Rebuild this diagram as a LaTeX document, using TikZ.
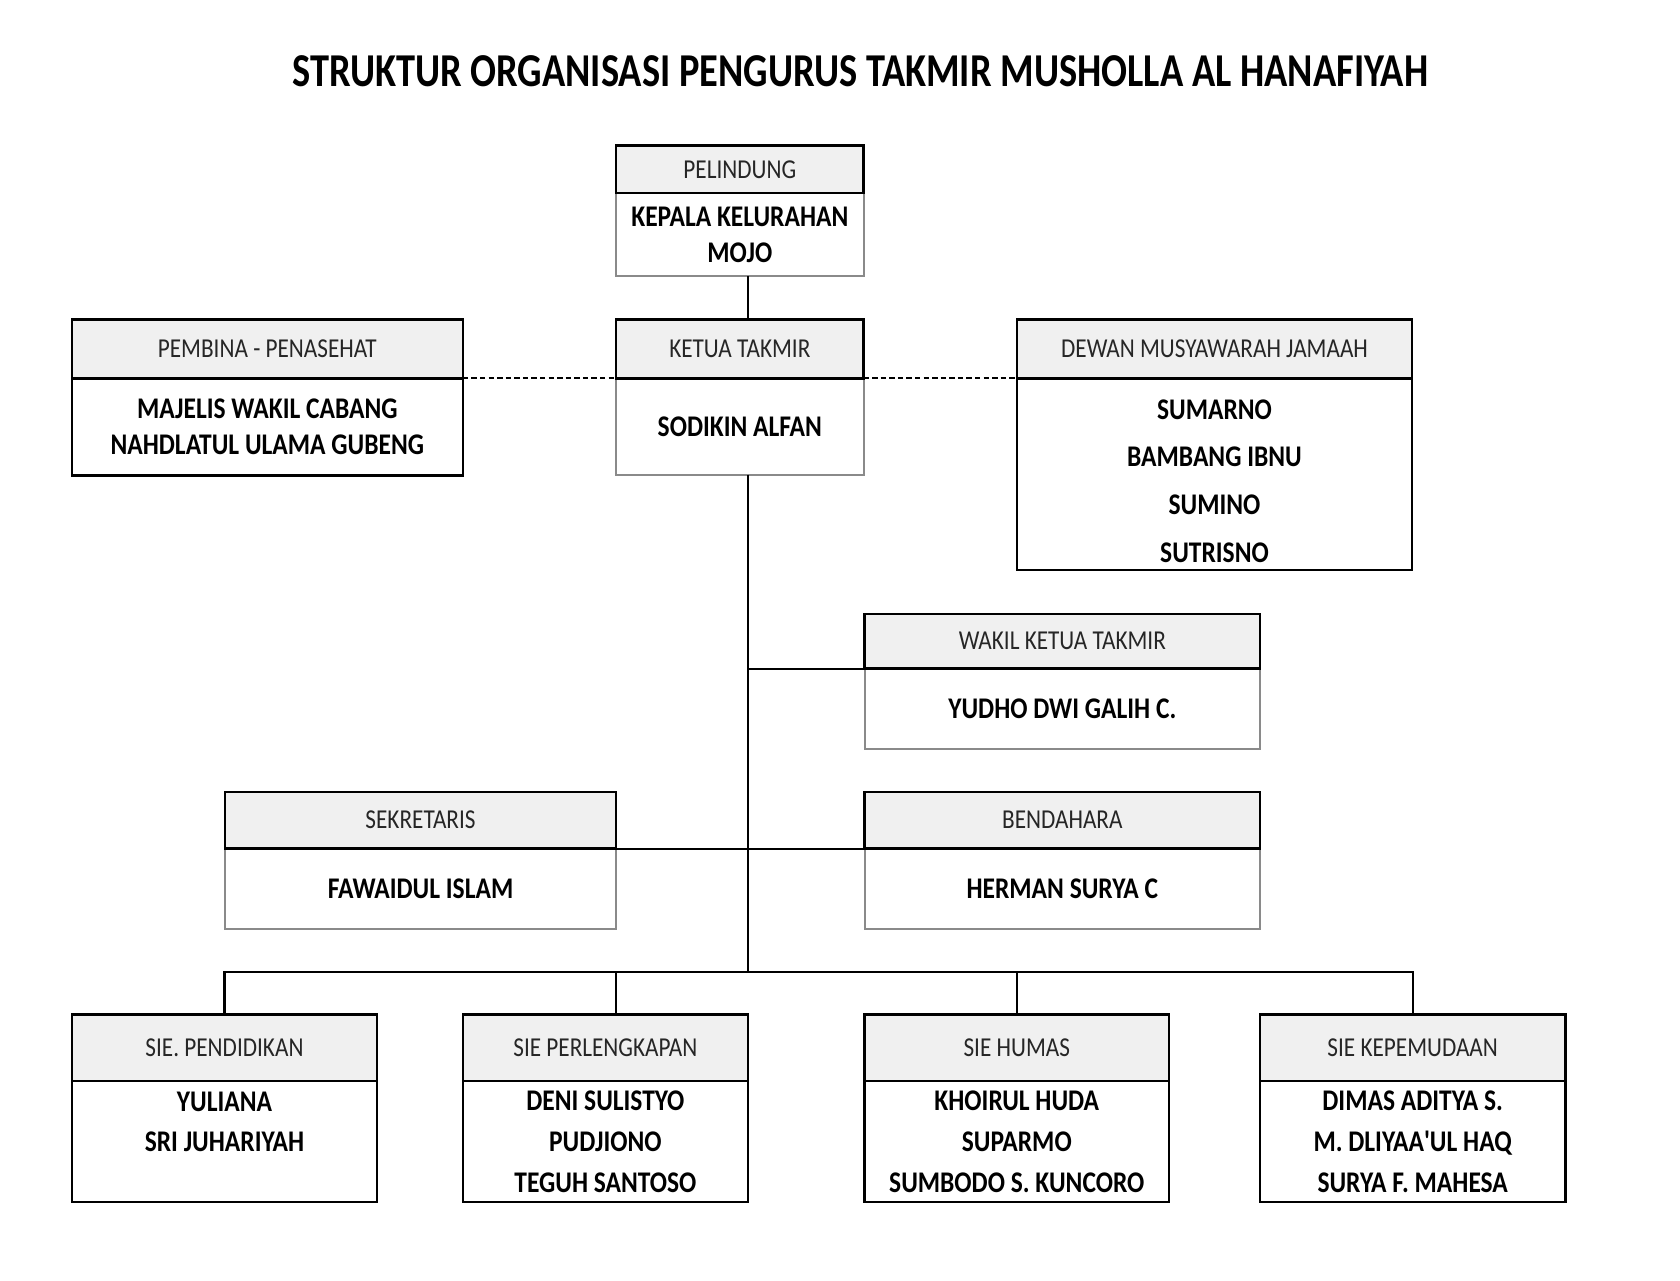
\documentclass[tikz,border=0pt]{standalone}
\usepackage{fontspec}
\setmainfont{Carlito}[FakeStretch=0.85]
\newfontfamily\titlefont{Carlito}[FakeStretch=0.815]
\newcommand\straightquote{{\addfontfeatures{Ligatures=TeXOff}'}}
\definecolor{hdrgray}{HTML}{F0F0F0}
\definecolor{linegray}{HTML}{8A8A8A}
\tikzset{
  hdr/.style={draw=black, line width=2.4pt, fill=hdrgray, inner sep=0pt, outer sep=0pt,
    anchor=north west, text=black!85, font=\fontsize{25.5}{30}\selectfont},
  bodybase/.style={inner sep=0pt, outer sep=0pt, anchor=north west, align=center,
    text=black, font=\bfseries\fontsize{28}{34}\selectfont},
  bodyk/.style={draw=black, line width=2.4pt},
  bodyg/.style={draw=linegray, line width=1.8pt},
  conn/.style={draw=black, line width=2pt},
  dconn/.style={draw=black, line width=2pt, dash pattern=on 5pt off 3pt},
}
\newcommand\orgbox[9]{%
  \node[bodybase,#9, minimum width={(#4)-(#2)}, minimum height={(#6)-(#5)}] (#1) at (#2,#5) {#8};
  \node[hdr, minimum width={(#4)-(#2)}, minimum height={(#5)-(#3)}] (#1h) at (#2,#3) {#7};
}
\begin{document}
\begin{tikzpicture}[x=1pt,y=-1pt]
\useasboundingbox[fill=white] (0,0) rectangle (1568,1195);
\node[font=\titlefont\bfseries\fontsize{44}{50}\selectfont] (title) at (803,66) {STRUKTUR ORGANISASI PENGURUS TAKMIR MUSHOLLA AL HANAFIYAH};

\orgbox{pel}{575}{136}{806}{180}{258}{PELINDUNG}{KEPALA KELURAHAN\\MOJO}{bodyg}
\orgbox{ketua}{575}{298}{806}{353}{443}{KETUA TAKMIR}{SODIKIN ALFAN}{bodyg}
\orgbox{pem}{67}{298}{432}{353}{444}{PEMBINA - PENASEHAT}{MAJELIS WAKIL CABANG\\NAHDLATUL ULAMA GUBENG}{bodyk}
\orgbox{dew}{949}{298}{1318}{353}{532}{DEWAN MUSYAWARAH JAMAAH}{\rule{0pt}{31pt}SUMARNO\\BAMBANG IBNU\\SUMINO\\SUTRISNO}{bodyk,font=\bfseries\fontsize{28}{44.5}\selectfont}
\orgbox{wak}{807}{573}{1176}{624}{699}{WAKIL KETUA TAKMIR}{YUDHO DWI GALIH C.}{bodyg}
\orgbox{sek}{210}{739}{575}{792}{867}{SEKRETARIS}{FAWAIDUL ISLAM}{bodyg}
\orgbox{ben}{807}{739}{1176}{792}{867}{BENDAHARA}{HERMAN SURYA C}{bodyg}
\orgbox{pend}{67}{947}{352}{1009}{1122}{SIE. PENDIDIKAN}{YULIANA\\SRI JUHARIYAH\\\mbox{}}{bodyk,font=\bfseries\fontsize{28}{37}\selectfont}
\orgbox{perl}{432}{947}{698}{1009}{1122}{SIE PERLENGKAPAN}{DENI SULISTYO\\PUDJIONO\\TEGUH SANTOSO}{bodyk,font=\bfseries\fontsize{28}{38}\selectfont}
\orgbox{hum}{807}{947}{1091}{1009}{1122}{SIE HUMAS}{KHOIRUL HUDA\\SUPARMO\\SUMBODO S. KUNCORO}{bodyk,font=\bfseries\fontsize{28}{38}\selectfont}
\orgbox{kep}{1176}{947}{1461}{1009}{1122}{SIE KEPEMUDAAN}{DIMAS ADITYA S.\\M. DLIYAA\straightquote UL HAQ\\SURYA F. MAHESA}{bodyk,font=\bfseries\fontsize{28}{38}\selectfont}

\coordinate (bus) at (698,907);

\draw[conn] (pel.south -| bus) -- (ketuah.north -| bus);
\draw[dconn] (pemh.south east) -- (ketuah.south west);
\draw[dconn] (ketuah.south east) -- (dewh.south west);
\draw[conn] (ketua.south -| bus) -- (bus);
\draw[conn] (wakh.south west -| bus) -- (wakh.south west);
\draw[conn] (sekh.south east) -- (benh.south west);
\draw[conn] (pendh.north) -- (pendh.north |- bus) -- (keph.north |- bus) -- (keph.north);
\draw[conn] (perlh.north -| sekh.east) -- (sekh.east |- bus);
\draw[conn] (humh.north) -- (humh.north |- bus);
\end{tikzpicture}
\end{document}
